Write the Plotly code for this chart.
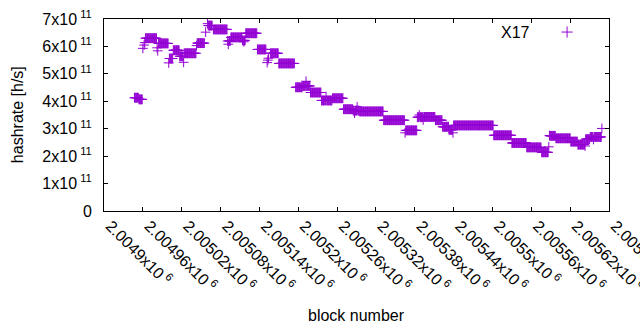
import numpy as np
import plotly.graph_objects as go

# Runs of consecutive blocks sharing the same hashrate
run_start = [2004947, 2004954, 2004960, 2004962, 2004963, 2004964, 2004982, 2004983, 2004984, 2005000,
             2005001, 2005007, 2005017, 2005023, 2005024, 2005043, 2005044, 2005057, 2005060, 2005061,
             2005069, 2005091, 2005092, 2005093, 2005096, 2005114, 2005116, 2005117, 2005119, 2005137,
             2005152, 2005153, 2005154, 2005157, 2005170, 2005196, 2005207, 2005212, 2005213, 2005219,
             2005236, 2005243, 2005244, 2005253, 2005270, 2005285, 2005287, 2005288, 2005291, 2005292,
             2005295, 2005332, 2005365, 2005366, 2005384, 2005387, 2005388, 2005393, 2005394, 2005412,
             2005423, 2005433, 2005439, 2005440, 2005502, 2005530, 2005553, 2005576, 2005587, 2005588,
             2005589, 2005598, 2005621, 2005632, 2005643, 2005644, 2005651, 2005656, 2005657, 2005669]
run_length = [7, 6, 1, 1, 1, 18, 1, 1, 16, 1,
              6, 10, 6, 1, 19, 1, 12, 1, 1, 7,
              22, 1, 1, 3, 18, 2, 1, 2, 18, 14,
              1, 1, 1, 13, 25, 11, 5, 1, 6, 17,
              7, 1, 9, 17, 15, 2, 1, 3, 1, 3,
              37, 33, 1, 18, 3, 1, 5, 1, 18, 11,
              10, 6, 1, 62, 28, 23, 23, 11, 1, 1,
              9, 23, 11, 11, 1, 7, 5, 1, 12, 1]
run_hashrate_e11 = [4.13, 4.07, 5.93, 6.05, 6.14, 6.30, 5.95, 5.84, 6.11, 5.40,
                    5.56, 5.86, 5.64, 5.42, 5.75, 6.03, 6.12, 6.52, 6.83, 6.76,
                    6.62, 6.20, 6.08, 6.20, 6.33, 6.22, 6.17, 6.22, 6.48, 5.89,
                    5.41, 5.50, 5.57, 5.75, 5.38, 4.51, 4.56, 4.73, 4.56, 4.32,
                    4.03, 4.17, 4.03, 4.11, 3.71, 3.66, 3.57, 3.66, 3.80, 3.66,
                    3.63, 3.31, 2.85, 2.94, 3.42, 3.50, 3.42, 3.32, 3.43, 3.31,
                    3.07, 2.96, 2.85, 3.12, 2.76, 2.48, 2.32, 2.14, 2.34, 2.75,
                    2.74, 2.65, 2.53, 2.42, 2.37, 2.62, 2.70, 2.61, 2.70, 3.01]

x_tick_values = [2004900 + 60 * k for k in range(14)]
x_tick_labels = ["2.0049x10<sup> 6</sup>", "2.00496x10<sup> 6</sup>", "2.00502x10<sup> 6</sup>",
                 "2.00508x10<sup> 6</sup>", "2.00514x10<sup> 6</sup>", "2.0052x10<sup> 6</sup>",
                 "2.00526x10<sup> 6</sup>", "2.00532x10<sup> 6</sup>", "2.00538x10<sup> 6</sup>",
                 "2.00544x10<sup> 6</sup>", "2.0055x10<sup> 6</sup>", "2.00556x10<sup> 6</sup>",
                 "2.00562x10<sup> 6</sup>", "2.00568x10<sup> 6</sup>"]
y_tick_values = [0, 1e11, 2e11, 3e11, 4e11, 5e11, 6e11, 7e11]
y_tick_labels = ["0", "1x10<sup> 11</sup>", "2x10<sup> 11</sup>", "3x10<sup> 11</sup>",
                 "4x10<sup> 11</sup>", "5x10<sup> 11</sup>", "6x10<sup> 11</sup>", "7x10<sup> 11</sup>"]

blocks = np.concatenate([np.arange(s, s + n) for s, n in zip(run_start, run_length)])
hashrate = np.concatenate([np.full(n, v * 1e11) for n, v in zip(run_length, run_hashrate_e11)])

COLOR = "#9400D3"
FONT = "Liberation Sans, Arial, sans-serif"
PAD = "\u00a0\u00a0"  # small lead-in so rotated labels start just right of their tick

fig = go.Figure()
fig.add_trace(go.Scatter(
    x=blocks, y=hashrate, mode="markers", name="X17",
    marker=dict(symbol="cross-thin", size=7, color=COLOR, line=dict(color=COLOR, width=1)),
    showlegend=False, cliponaxis=False,
))
# legend sample marker (overlay axes in paper-like units)
fig.add_trace(go.Scatter(
    x=[0.917], y=[0.932], mode="markers", xaxis="x2", yaxis="y2", showlegend=False,
    marker=dict(symbol="cross-thin", size=8, color=COLOR, line=dict(color=COLOR, width=1)),
))

axis_common = dict(showline=True, linecolor="black", linewidth=1, mirror="ticks",
                   ticks="inside", ticklen=4, tickcolor="black", tickwidth=1,
                   showgrid=False, zeroline=False, automargin=False,
                   tickfont=dict(family=FONT, size=16, color="black"))

fig.update_layout(
    width=640, height=330,
    margin=dict(l=104, r=31, t=19, b=119, autoexpand=False),
    paper_bgcolor="white", plot_bgcolor="white",
    font=dict(family=FONT, size=16, color="black"),
    xaxis=dict(range=[2004900, 2005680], tickvals=x_tick_values,
               ticktext=[PAD + t for t in x_tick_labels],
               tickangle=45, ticklabelstandoff=-8, ticklabeloverflow="allow", **axis_common),
    yaxis=dict(range=[0, 7e11], tickvals=y_tick_values, ticktext=y_tick_labels,
               ticklabelstandoff=8, **axis_common),
    xaxis2=dict(range=[0, 1], overlaying="x", visible=False),
    yaxis2=dict(range=[0, 1], overlaying="y", visible=False),
    annotations=[
        dict(text="hashrate [h/s]", xref="paper", yref="paper", x=-0.172, y=0.5,
             textangle=-90, showarrow=False, xanchor="center", yanchor="middle",
             font=dict(family=FONT, size=16, color="black")),
        dict(text="block number", xref="paper", yref="paper", x=0.5, y=-0.542,
             showarrow=False, xanchor="center", yanchor="middle",
             font=dict(family=FONT, size=16, color="black")),
        dict(text="X17", xref="paper", yref="paper", x=0.8475, y=0.932,
             showarrow=False, xanchor="right", yanchor="middle",
             font=dict(family=FONT, size=16, color="black")),
    ],
)

fig.write_html("out.html", config={"displayModeBar": False},
               post_script="document.body.style.margin='0px';")
